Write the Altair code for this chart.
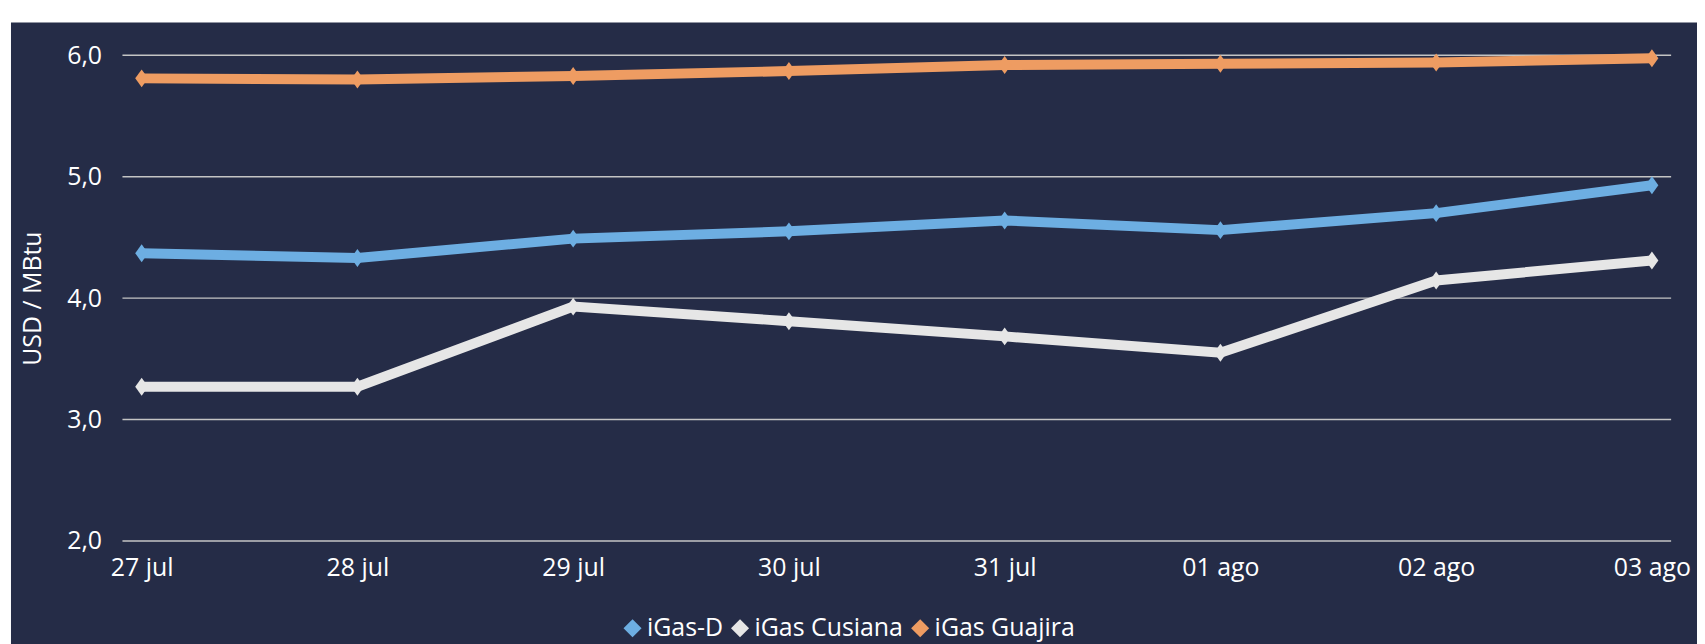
import altair as alt
import pandas as pd

dates = ["27 jul", "28 jul", "29 jul", "30 jul", "31 jul", "01 ago", "02 ago", "03 ago"]
series_names = ["iGas-D", "iGas Cusiana", "iGas Guajira"]
igas_d = [4.37, 4.33, 4.49, 4.55, 4.64, 4.56, 4.70, 4.93]
igas_cusiana = [3.27, 3.27, 3.93, 3.81, 3.685, 3.55, 4.145, 4.31]
igas_guajira = [5.81, 5.80, 5.83, 5.87, 5.92, 5.93, 5.94, 5.975]
series_colors = ["#6DAEE2", "#E6E6E6", "#EE9C62"]
y_ticks = [2, 3, 4, 5, 6]

rows = []
for name, vals in zip(series_names, [igas_d, igas_cusiana, igas_guajira]):
    for d, v in zip(dates, vals):
        rows.append({"fecha": d, "serie": name, "valor": v})
df = pd.DataFrame(rows)
grid_df = pd.DataFrame({"valor": y_ticks})

BG = "#252C47"
FONT = "Open Sans"
FS = 25
W, H = 1556, 488

x_enc = alt.X("fecha:N", sort=dates,
              scale=alt.Scale(type="point", padding=0.089),
              axis=alt.Axis(title=None, labelAngle=0, domain=False, ticks=False,
                            tickSize=0, grid=False, labelPadding=15, zindex=1,
                            labelFontSize=FS, labelColor="#FFFFFF", labelFont=FONT))
y_scale = alt.Scale(domain=[2, 6], nice=False, zero=False)
y_axis = alt.Axis(values=y_ticks, title="USD / MBtu", zindex=1,
                  labelExpr="replace(format(datum.value, '.1f'), '.', ',')",
                  domain=False, ticks=False, tickSize=0, labelPadding=21,
                  labelFontSize=FS, labelColor="#FFFFFF", labelFont=FONT,
                  grid=False,
                  titleFontSize=FS, titleFontWeight="normal", titleColor="#FFFFFF",
                  titleFont=FONT, titleAngle=-90, titleX=-90, titleY=H / 2,
                  titleAlign="center", titleBaseline="middle")
y_enc = alt.Y("valor:Q", scale=y_scale, axis=y_axis)
color_scale = alt.Scale(domain=series_names, range=series_colors)
legend = alt.Legend(title=None, orient="none", direction="horizontal",
                    legendX=500, legendY=563, padding=0, zindex=1,
                    symbolType="diamond", symbolSize=330,
                    symbolStrokeWidth=0, labelFontSize=FS,
                    labelColor="#FFFFFF", labelFont=FONT,
                    labelOffset=2, columnPadding=4)
color_enc = alt.Color("serie:N", scale=color_scale, sort=series_names, legend=legend)

panel = alt.Chart(alt.Data(values=[{"p": 1}])).mark_rect(color=BG).encode(
    x=alt.value(-112), x2=alt.value(W + 60), y=alt.value(-33), y2=alt.value(H + 140)
)

grid = alt.Chart(grid_df).mark_rule(color="#C4C4C4", strokeWidth=1.4).encode(
    y=y_enc,
    x=alt.value(0), x2=alt.value(W),
)

lines = alt.Chart(df).mark_line(strokeWidth=10).encode(
    x=x_enc, y=y_enc, color=color_enc, detail="serie:N",
)

diamond = "M0,-1L0.72,0L0,1L-0.72,0Z"
points = alt.Chart(df).mark_point(filled=True, shape=diamond, size=324, opacity=1).encode(
    x=x_enc, y=y_enc, color=color_enc,
)

chart = alt.layer(panel, grid, lines, points).properties(
    width=W, height=H,
    padding={"left": 115, "top": 46, "right": 26, "bottom": 102},
    autosize=alt.AutoSizeParams(type="none"),
    background="#FFFFFF",
).configure_view(stroke=None).configure(font=FONT)

chart.save("out.html", embed_options={"renderer": "svg", "actions": False})
